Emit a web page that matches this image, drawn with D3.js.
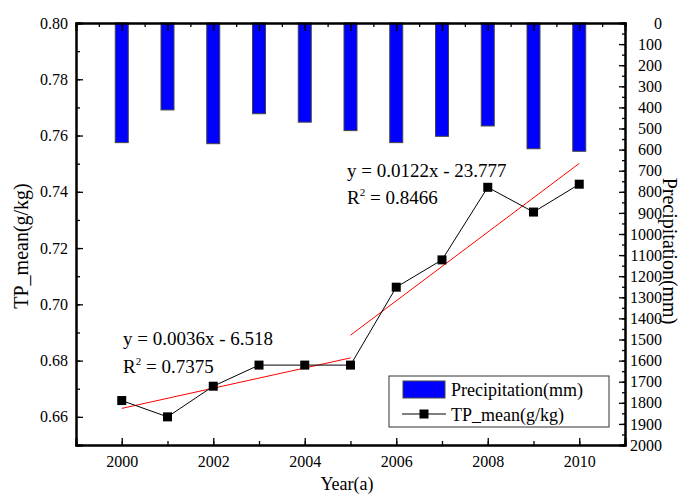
<!DOCTYPE html>
<html>
<head>
<meta charset="utf-8">
<script src="https://cdn.jsdelivr.net/npm/d3@7"></script>
<style>
  body { margin: 0; background: #fff; }
  svg text { font-family: 'Liberation Serif', 'Times New Roman', serif; fill: #000; }
</style>
</head>
<body>
<svg width="679" height="503"></svg>
<script>
const years = [2000, 2001, 2002, 2003, 2004, 2005, 2006, 2007, 2008, 2009, 2010];
const precipitation = [567, 412, 572, 430, 470, 510, 567, 537, 488, 596, 608];
const tpMean = [0.6658, 0.6600, 0.6709, 0.6784, 0.6784, 0.6784, 0.7061, 0.7158, 0.7416, 0.7328, 0.7427];
const fitRanges = [[2000, 2005], [2005, 2010]];
const fitLabels = [
    { eq: 'y = 0.0036x - 6.518', r2: ' = 0.7375' },
    { eq: 'y = 0.0122x - 23.777', r2: ' = 0.8466' }
];
const leftTicks = [0.66, 0.68, 0.70, 0.72, 0.74, 0.76, 0.78, 0.80];
const yearTicks = [2000, 2002, 2004, 2006, 2008, 2010];

const svg = d3.select('svg');
const margin = { top: 23, right: 54, bottom: 58, left: 76 };
const width = +svg.attr('width');
const height = +svg.attr('height');
const innerWidth = width - margin.left - margin.right;
const innerHeight = height - margin.top - margin.bottom;

const data = years.map((y, i) => ({ year: y, prec: precipitation[i], tp: tpMean[i] }));

const xScale = d3.scaleLinear().domain([1999, 2011]).range([0, innerWidth]);
const yScale = d3.scaleLinear().domain([0.65, 0.80]).range([innerHeight, 0]);
const pScale = d3.scaleLinear().domain([0, 2000]).range([0, innerHeight]);

const g = svg.append('g')
    .attr('transform', `translate(${margin.left}, ${margin.top})`);

// bars hang from the top (reversed precipitation axis)
const barWidth = 13;
g.selectAll('rect.bar')
    .data(data)
    .enter()
        .append('rect')
        .attr('class', 'bar')
        .attr('x', d => xScale(d.year) - barWidth / 2)
        .attr('y', 0)
        .attr('width', barWidth)
        .attr('height', d => pScale(d.prec))
        .attr('fill', '#0000ff')
        .attr('stroke', '#444')
        .attr('stroke-width', 1);

// least squares fit for each segment
const fit = ([a, b]) => {
    const pts = data.filter(d => d.year >= a && d.year <= b);
    const mx = d3.mean(pts, d => d.year);
    const my = d3.mean(pts, d => d.tp);
    const slope = d3.sum(pts, d => (d.year - mx) * (d.tp - my)) / d3.sum(pts, d => (d.year - mx) ** 2);
    return [a, b].map(x => ({ year: x, tp: my + slope * (x - mx) }));
};

const line = d3.line().x(d => xScale(d.year)).y(d => yScale(d.tp));

fitRanges.forEach(r => {
    g.append('path')
        .datum(fit(r))
        .attr('d', line)
        .attr('fill', 'none')
        .attr('stroke', '#ff0000')
        .attr('stroke-width', 1);
});

g.append('path')
    .datum(data)
    .attr('d', line)
    .attr('fill', 'none')
    .attr('stroke', '#000')
    .attr('stroke-width', 1);

const markerSize = 9;
g.selectAll('rect.marker')
    .data(data)
    .enter()
        .append('rect')
        .attr('class', 'marker')
        .attr('x', d => xScale(d.year) - markerSize / 2)
        .attr('y', d => yScale(d.tp) - markerSize / 2)
        .attr('width', markerSize)
        .attr('height', markerSize)
        .attr('fill', '#000');

// axes, ticks pointing inward
const styleAxis = sel => {
    sel.select('.domain').attr('stroke-width', 2);
    sel.selectAll('.tick line').attr('stroke-width', 1.3);
    sel.selectAll('.tick text')
        .style('font-family', "'Liberation Serif', serif")
        .style('font-size', '16px');
};
const minorAxis = sel => {
    styleAxis(sel);
    sel.selectAll('.tick text').remove();
};

// minor ticks first, then major
g.append('g')
    .call(d3.axisRight(yScale).tickValues(d3.range(0.65, 0.8001, 0.01)).tickSize(4))
    .call(minorAxis);
g.append('g')
    .call(d3.axisLeft(yScale).tickValues(leftTicks).tickSize(-7).tickPadding(8).tickFormat(d3.format('.2f')))
    .call(styleAxis);

g.append('g')
    .attr('transform', `translate(${innerWidth}, 0)`)
    .call(d3.axisLeft(pScale).tickValues(d3.range(0, 2001, 50)).tickSize(3))
    .call(minorAxis);
g.append('g')
    .attr('transform', `translate(${innerWidth}, 0)`)
    .call(d3.axisRight(pScale).tickValues(d3.range(0, 2001, 100)).tickSize(-6).tickPadding(37).tickFormat(d3.format('d')))
    .call(sel => sel.selectAll('.tick text').attr('text-anchor', 'end'))
    .call(styleAxis);

g.append('g')
    .attr('transform', `translate(0, ${innerHeight})`)
    .call(d3.axisTop(xScale).tickValues(d3.range(2000, 2011, 1)).tickSize(4))
    .call(minorAxis);
g.append('g')
    .attr('transform', `translate(0, ${innerHeight})`)
    .call(d3.axisBottom(xScale).tickValues(yearTicks).tickSize(-7).tickPadding(11).tickFormat(d3.format('d')))
    .call(styleAxis);

g.append('g')
    .call(d3.axisBottom(xScale).tickValues(d3.range(1999.5, 2011, 0.5)).tickSize(4))
    .call(minorAxis);
g.append('g')
    .call(d3.axisBottom(xScale).tickValues(years).tickSize(8))
    .call(minorAxis);

// axis titles
svg.append('text')
    .attr('x', 347).attr('y', 490)
    .attr('text-anchor', 'middle')
    .attr('font-size', 18)
    .text('Year(a)');

svg.append('text')
    .attr('transform', 'translate(28, 246) rotate(-90)')
    .attr('text-anchor', 'middle')
    .attr('font-size', 20)
    .text('TP_mean(g/kg)');

svg.append('text')
    .attr('transform', 'translate(663, 251) rotate(90)')
    .attr('text-anchor', 'middle')
    .attr('font-size', 20)
    .text('Precipitation(mm)');

// fit equations
const eqPos = [[123, 345, 373], [347, 177, 204]];
fitLabels.forEach((f, i) => {
    const [x, y1, y2] = eqPos[i];
    svg.append('text').attr('x', x).attr('y', y1).attr('font-size', 19).text(f.eq);
    const t = svg.append('text').attr('x', x).attr('y', y2).attr('font-size', 19);
    t.append('tspan').text('R');
    t.append('tspan').attr('dy', -8).attr('font-size', 11).text('2');
    t.append('tspan').attr('dy', 8).text(f.r2);
});

// legend
const legend = svg.append('g').attr('transform', 'translate(389, 376)');
legend.append('rect')
    .attr('width', 220).attr('height', 51)
    .attr('fill', '#fff').attr('stroke', '#333').attr('stroke-width', 1);
legend.append('rect')
    .attr('x', 14).attr('y', 5).attr('width', 42).attr('height', 17)
    .attr('fill', '#0000ff').attr('stroke', '#444');
legend.append('text')
    .attr('x', 62).attr('y', 20).attr('font-size', 18)
    .text('Precipitation(mm)');
legend.append('line')
    .attr('x1', 13).attr('x2', 57).attr('y1', 38).attr('y2', 38)
    .attr('stroke', '#000');
legend.append('rect')
    .attr('x', 35 - markerSize / 2).attr('y', 38 - markerSize / 2)
    .attr('width', markerSize).attr('height', markerSize).attr('fill', '#000');
legend.append('text')
    .attr('x', 62).attr('y', 45).attr('font-size', 18)
    .text('TP_mean(g/kg)');
</script>
</body>
</html>
